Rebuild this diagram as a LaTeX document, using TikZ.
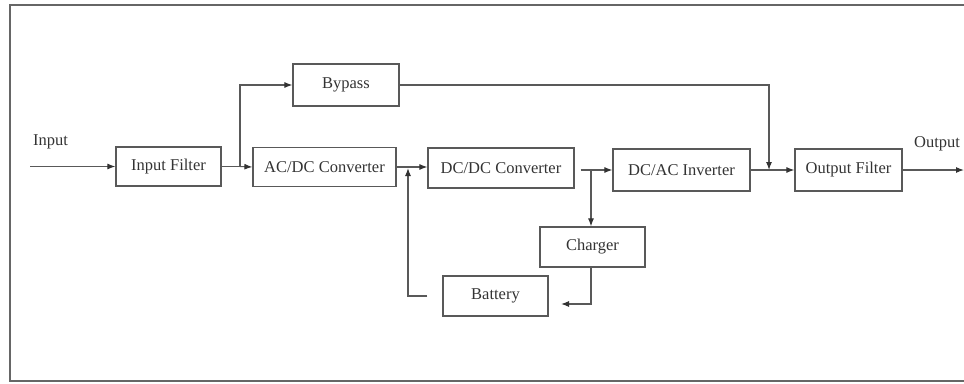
\documentclass[tikz,border=0pt]{standalone}
\usepackage{fontspec}
\setmainfont{Liberation Serif}
\usetikzlibrary{arrows.meta}
\begin{document}
\begin{tikzpicture}[x=1pt,y=-1pt,
  blk/.style={draw=black!65,line width=1.2pt,inner sep=0pt,text=black!80,
    font=\fontsize{16.5}{19}\selectfont},
  ln/.style={draw=black!65,line width=1.1pt},
  arr/.style={ln,-{Latex[length=8pt,width=6pt,color=black!80]}},
  lbl/.style={inner sep=0pt,text=black!80,font=\fontsize{16.5}{19}\selectfont}]
\useasboundingbox (0,0) rectangle (964,383);
\draw[draw=black!60,line width=2.2pt] (964,5) -- (10,5) -- (10,381) -- (964,381);
% blocks
\node[blk,minimum width=105pt,minimum height=39pt] (inf)  at (168.5,166.5) {Input Filter};
\node[blk,minimum width=106pt,minimum height=42pt] (byp)  at (346,85) {Bypass};
\node[blk,minimum width=143pt,minimum height=39pt] (acdc) at (324.5,167) {AC/DC Converter};
\node[blk,minimum width=146pt,minimum height=40pt] (dcdc) at (501,168) {DC/DC Converter};
\node[blk,minimum width=137pt,minimum height=42pt] (dcac) at (681.5,170) {DC/AC Inverter};
\node[blk,minimum width=107pt,minimum height=42pt] (outf) at (848.5,170) {Output Filter};
\node[blk,minimum width=105pt,minimum height=40pt] (chg)  at (592.5,247) {Charger};
\node[blk,minimum width=105pt,minimum height=40pt] (bat)  at (495.5,296) {Battery};
% labels
\node[lbl,anchor=west] (inlbl) at (33,142) {Input};
\node[lbl,anchor=west] (outlbl) at (914,144) {Output};
% coordinates
\coordinate (in0) at (30,166.5);
\coordinate (sp1) at (240,166.5);
\coordinate (j2) at (769,170);
\coordinate (out0) at (964,170);
\coordinate (j1) at (408,168);
\coordinate (j3) at (591,170);
\coordinate (bt) at (561,304);
% connectors
\draw[arr] (in0) -- (inf.west);
\draw[ln] (inf.east) -- (sp1);
\draw[arr] (sp1) -- (acdc.west);
\draw[arr] (sp1) |- (byp.west);
\draw[arr] (byp.east) -| (j2);
\draw[arr] (dcac.east) -- (outf.west);
\draw[arr] (outf.east) -- (out0);
\draw[arr] (acdc.east) -- (acdc.east -| dcdc.west);
\draw[arr,shorten <=15pt] (bat.west) -| (j1);
\draw[arr,shorten <=6pt] (dcdc.east |- dcac.west) -- (dcac.west);
\draw[arr] (j3) -- (j3 |- chg.north);
\draw[arr] (j3 |- chg.south) |- (bt);
\end{tikzpicture}
\end{document}
